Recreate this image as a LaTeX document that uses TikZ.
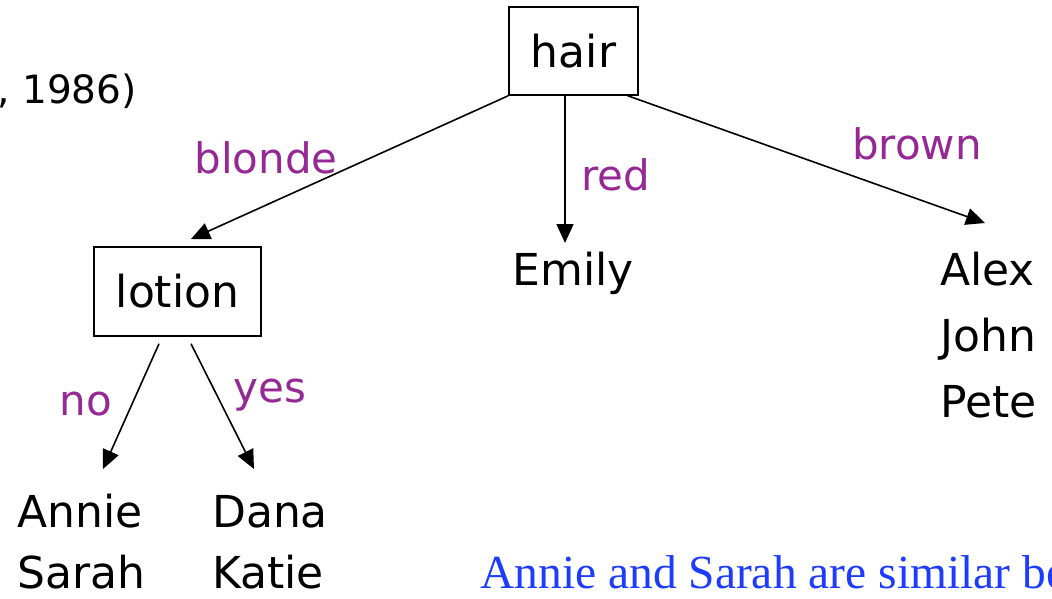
\documentclass[tikz,border=0pt]{standalone}
\usepackage{fontspec}
\setmainfont{DejaVu Sans}
\newfontfamily\notefont{Liberation Serif}
\usetikzlibrary{arrows.meta}
\definecolor{branchpurple}{RGB}{150,40,150}
\definecolor{noteblue}{RGB}{30,60,255}

\begin{document}
\begin{tikzpicture}[x=1pt,y=-1pt,
  test/.style={draw, line width=1.5pt, inner sep=0pt, font=\fontsize{44}{52}\selectfont},
  leaf/.style={inner sep=0pt, align=left, anchor=base west},
  branch/.style={text=branchpurple, inner sep=0pt, anchor=base, font=\fontsize{42}{50}\selectfont},
  edge/.style={line width=1.6pt, -{Triangle[length=19pt,width=17pt]}}]
\useasboundingbox (0,0) rectangle (1052,598);
\node[anchor=base east, inner sep=0pt, font=\fontsize{39}{47}\selectfont] (cite) at (137,103) {, 1986)};
\node[test, minimum width=129pt, minimum height=88pt] (hair) at (573.5,51) {hair};
\node[test, minimum width=167pt, minimum height=89pt] (lotion) at (177.5,291.5) {lotion};
\node[leaf, anchor=base, font=\fontsize{44}{52}\selectfont] (emily) at (573,285) {Emily};
% base of a multi-line leaf is its last line
\node[leaf, font=\fontsize{44}{66}\selectfont] (brownleaf) at (940,417) {Alex\\John\\Pete};
\node[leaf, font=\fontsize{44}{61}\selectfont] (noleaf) at (17,588) {Annie\\Sarah};
\node[leaf, font=\fontsize{44}{61}\selectfont] (yesleaf) at (212,588) {Dana\\Katie};
% arrow ends
\coordinate (blondetip) at (191,239);
\coordinate (redtip) at (565,243);
\coordinate (browntip) at (985,223);
\coordinate (notip) at (103,469);
\coordinate (yestip) at (254,469);
\draw[edge] (hair.south west) -- (blondetip);
\draw[edge] ([xshift=-8.5pt]hair.south) -- (redtip);
\draw[edge] ([xshift=-11pt]hair.south east) -- (browntip);
\draw[edge] ([shift={(-18.5,7)}]lotion.south) -- (notip);
\draw[edge] ([shift={(13.5,7)}]lotion.south) -- (yestip);
\node[branch] (blonde) at (266,173) {blonde};
\node[branch] (red) at (616,190) {red};
\node[branch] (brown) at (917,159) {brown};
\node[branch] (no) at (86,415) {no};
\node[branch] (yes) at (270,402) {yes};
\node[anchor=base west, inner sep=0pt, text=noteblue, font=\notefont\fontsize{47.5}{56}\selectfont] (note) at (480,588) {Annie and Sarah are similar be};
\end{tikzpicture}
\end{document}
